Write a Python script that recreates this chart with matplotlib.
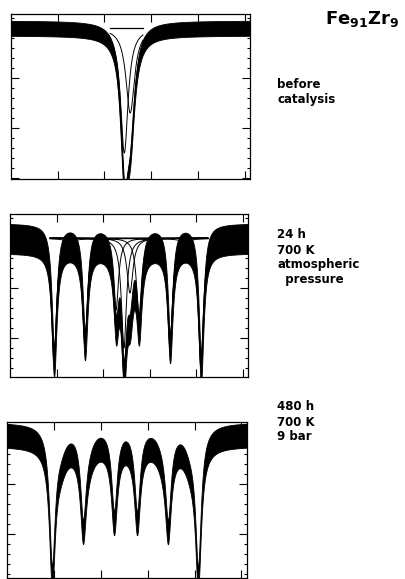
import matplotlib
matplotlib.use("Agg")
import matplotlib.pyplot as plt
import numpy as np
from matplotlib.ticker import MultipleLocator

# velocity axis (mm/s) shared by all three spectra
vel_range = (-8.5, 8.9)
vel_ticks = [-5.1, -1.7, 1.7, 5.1, 8.5]

# before catalysis: two-component amorphous line (position, depth %, hwhm)
amor_pos = [-0.25, 0.18]
amor_depth = [12.5, 8.5]
amor_hwhm = [0.33, 0.38]

# 24 h, 700 K, atmospheric pressure: alpha-Fe sextet + remaining amorphous part
sx24_pos = [-5.28, -3.02, -0.75, 0.93, 3.20, 5.46]
sx24_depth = [12.2, 10.4, 7.2, 7.8, 10.7, 12.8]
sx24_hwhm = 0.22
am24_pos = [-0.17, 0.27]
am24_depth = [11.0, 5.5]
am24_hwhm = [0.22, 0.26]

# 480 h, 700 K, 9 bar: sharp sextet + broad low-field sextet
sxA_pos = [-5.24, -2.99, -0.74, 0.93, 3.17, 5.35]
sxA_depth = [13.0, 8.0, 8.0, 8.0, 8.0, 13.0]
sxA_hwhm = 0.25
sxB_pos = [-4.70, -2.70, -0.60, 0.78, 2.88, 4.84]
sxB_depth = [2.0, 1.5, 0.3, 0.3, 1.5, 2.0]
sxB_hwhm = 0.60

noise = [0.75, 1.5, 1.2]          # half thickness of the counting-noise band (%)
ylims = [(84.9, 101.4), (86.1, 102.4), (85.6, 101.2)]
fit_range = [(-1.29, 1.11), (-5.58, 5.97), None]

labels = [["before", "catalysis"],
          ["24 h", "700 K", "atmospheric", "  pressure"],
          ["480 h", "700 K", "9 bar"]]


def lorentz(v, pos, depth, hwhm):
    return depth * hwhm**2 / ((v - pos) ** 2 + hwhm**2)


def components(v, pos, depth, hwhm):
    hw = hwhm if np.ndim(hwhm) else [hwhm] * len(pos)
    return [lorentz(v, p, d, w) for p, d, w in zip(pos, depth, hw)]


W, H = 405, 579
fig = plt.figure(figsize=(W / 100, H / 100), dpi=100)

# axes boxes in pixels: left, top, right, bottom
boxes = [(11, 14, 250, 179), (10, 214, 248, 377), (7, 422, 247, 578)]

v = np.linspace(vel_range[0], vel_range[1], 1024)
comp_sets = [
    components(v, amor_pos, amor_depth, amor_hwhm),
    components(v, sx24_pos, sx24_depth, sx24_hwhm) + components(v, am24_pos, am24_depth, am24_hwhm),
    components(v, sxA_pos, sxA_depth, sxA_hwhm) + components(v, sxB_pos, sxB_depth, sxB_hwhm),
]

for i, (l, t, r, b) in enumerate(boxes):
    ax = fig.add_axes([l / W, 1 - b / H, (r - l) / W, (b - t) / H])
    comps = comp_sets[i]
    model = 100 - np.sum(comps, axis=0)
    ax.fill_between(v, model - noise[i], model + noise[i], color="black", lw=0.6)

    if fit_range[i] is not None:
        lo, hi = fit_range[i]
        m = (v >= lo) & (v <= hi)
        ax.plot([lo, hi], [100, 100], color="black", lw=0.9)
        for c in comps:
            ax.plot(v[m], 100 - c[m], color="black", lw=0.7)
        ax.plot(v[m], model[m], color="black", lw=0.9)

    ax.set_xlim(*vel_range)
    ax.set_ylim(*ylims[i])
    ax.set_xticks(vel_ticks)
    ax.yaxis.set_major_locator(MultipleLocator(5))
    ax.yaxis.set_minor_locator(MultipleLocator(1))
    ax.tick_params(which="both", direction="in", top=True, right=True,
                   labelleft=False, labelbottom=False, width=0.8)
    ax.tick_params(which="major", length=5.5)
    ax.tick_params(which="minor", length=2.2)
    for s in ax.spines.values():
        s.set_linewidth(0.9)

# condition labels to the right of each spectrum
label_y = [[85, 100], [235, 250, 265, 280], [407, 422, 437]]
for lines, ys in zip(labels, label_y):
    for txt, y in zip(lines, ys):
        fig.text(277 / W, 1 - y / H, txt, ha="left", va="center",
                 fontsize=8.5, fontweight="bold", family="DejaVu Sans")

fig.text(325 / W, 1 - 19 / H, r"$\mathbf{Fe_{91}Zr_{9}}$", ha="left", va="center",
         fontsize=13)

fig.savefig("out.png", dpi=100)
